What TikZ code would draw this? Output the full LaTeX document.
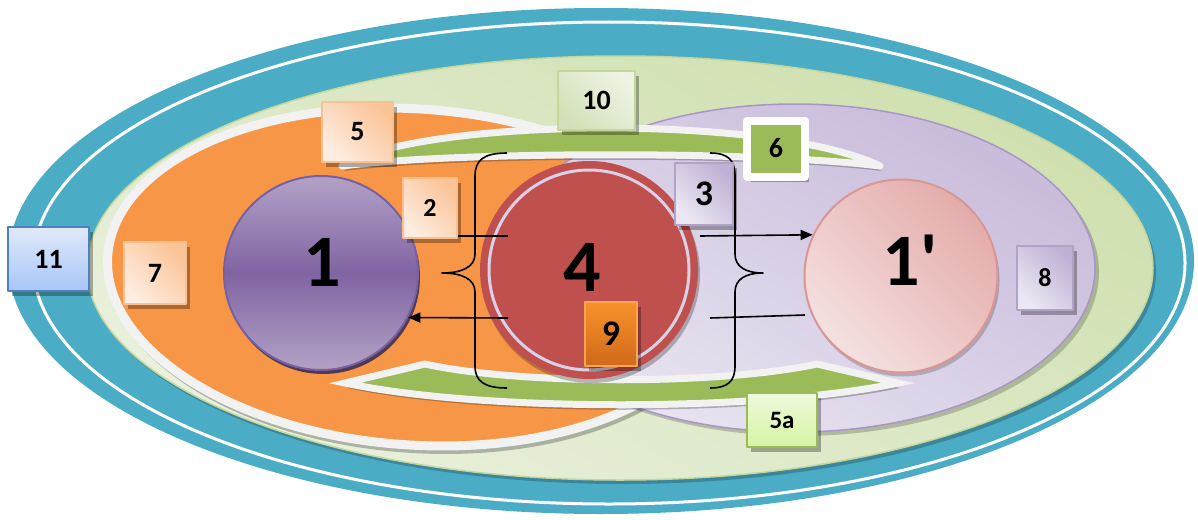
\documentclass[tikz,border=0pt]{standalone}
\usepackage{fontspec}
\setmainfont{Carlito}
\usetikzlibrary{shadows,arrows.meta}
\definecolor{tealc}{HTML}{4BACC6}
\definecolor{greenB}{HTML}{C3D69B}
\definecolor{greenT}{HTML}{D0E0AF}
\definecolor{greenL}{HTML}{E9F0DC}
\definecolor{rimc}{HTML}{F2F2F2}
\definecolor{orangeC}{HTML}{F79646}
\definecolor{purpB}{HTML}{A896C6}
\definecolor{purpT}{HTML}{C8BBDB}
\definecolor{purpL}{HTML}{E9E5F1}
\definecolor{green6}{HTML}{9BBB59}
\definecolor{redC}{HTML}{C0504D}
\definecolor{ringc}{HTML}{D9D1E8}
\definecolor{cOneB}{HTML}{7860A4}
\definecolor{cOneL}{HTML}{B3A2C7}
\definecolor{cOneM}{HTML}{8064A2}
\definecolor{cOneS}{HTML}{3F3151}
\definecolor{pinkB}{HTML}{D99694}
\definecolor{pinkD}{HTML}{E4ACAB}
\definecolor{pinkL}{HTML}{F4E1E0}
\definecolor{peachB}{HTML}{FAC090}
\definecolor{peachD}{HTML}{FBC497}
\definecolor{peachL}{HTML}{FDEDE1}
\definecolor{lilacB}{HTML}{B3A2C7}
\definecolor{lilacD}{HTML}{BFB1D4}
\definecolor{lilacL}{HTML}{ECE8F3}
\definecolor{tenB}{HTML}{C3D69B}
\definecolor{tenD}{HTML}{D3E1B8}
\definecolor{tenL}{HTML}{EEF3E4}
\definecolor{nineB}{HTML}{F9A450}
\definecolor{nineT}{HTML}{F8922A}
\definecolor{nineD}{HTML}{D0691A}
\definecolor{limeT}{HTML}{EEF9DC}
\definecolor{limeD}{HTML}{D6F4A2}
\definecolor{blueB}{HTML}{4F81BD}
\definecolor{blueT}{HTML}{E0E9FA}
\definecolor{blueD}{HTML}{A8C6F8}
\tikzset{
  boxbase/.style={rectangle, inner sep=0pt, text=black,
    font=\bfseries\fontsize{28}{30}\selectfont,
    drop shadow={shadow xshift=4pt, shadow yshift=-5pt, opacity=.3, fill=black}},
  peachbox/.style={boxbase, draw=peachB, line width=1.5pt, top color=peachD, bottom color=peachL, shading angle=-45},
  lilacbox/.style={boxbase, draw=lilacB, line width=1.5pt, top color=lilacD, bottom color=lilacL, shading angle=-45},
  tenbox/.style={boxbase, draw=tenB, line width=1.5pt, top color=tenL, bottom color=tenD, shading angle=-45},
  sixbox/.style={boxbase, draw=white, line width=8pt, fill=green6},
  ninebox/.style={boxbase, draw=nineB, line width=1.5pt, top color=nineT, bottom color=nineD},
  limebox/.style={boxbase, draw=green6, line width=1.5pt, top color=limeT, bottom color=limeD},
  bluebox/.style={boxbase, draw=blueB, line width=1.5pt, top color=blueT, bottom color=blueD},
  bigt/.style={inner sep=0pt, text=black, font=\bfseries\fontsize{74}{80}\selectfont},
  brc/.style={draw=black, line width=1.6pt},
  ln/.style={draw=black, line width=1.6pt},
  arr/.style={draw=black, line width=1.6pt, -{Triangle[length=12pt,width=10pt]}}
}
\begin{document}
\begin{tikzpicture}[x=1pt,y=-1pt,line join=round]
\useasboundingbox (0,0) rectangle (1198,519);
% outer teal ring
\fill[tealc] (601,261) ellipse [x radius=593, y radius=253];
\draw[white, line width=3pt] (609,263) ellipse [x radius=576, y radius=241];
% green ellipse
\fill[black, opacity=.22] (623,272) ellipse [x radius=533, y radius=212];
\path[draw=greenB, line width=1.5pt, top color=greenT, bottom color=greenL, shading angle=-30] (620,268) ellipse [x radius=533, y radius=212];
% orange ellipse
\fill[black, opacity=.25, rotate around={-4:(418,281)}] (418,281) ellipse [x radius=312, y radius=172];
\draw[rimc, line width=9pt, fill=orangeC, rotate around={-4:(415,277)}] (415,277) ellipse [x radius=308, y radius=168];
% purple ellipse
\fill[black, opacity=.2] (799,272) ellipse [x radius=300, y radius=164];
\path[draw=purpB, line width=1.5pt, top color=purpT, bottom color=purpL, shading angle=-30] (795,268) ellipse [x radius=300, y radius=164];
% top crescent
\fill[black, opacity=.25] (344,171) .. controls (422,123) and (772,118) .. (882,171) .. controls (762,156) and (462,156) .. (344,171) -- cycle;
\draw[rimc, line width=7pt, fill=green6] (342,166) .. controls (420,118) and (770,113) .. (880,166) .. controls (760,151) and (460,151) .. (342,166) -- cycle;
% bottom crescent
\fill[black, opacity=.25] (347,388) -- (427,369) .. controls (522,390) and (722,390) .. (819,369) -- (900,388) .. controls (762,417) and (482,417) .. (347,388) -- cycle;
\draw[rimc, line width=7pt, fill=green6, line join=miter] (345,383) -- (425,364) .. controls (520,385) and (720,385) .. (817,364) -- (898,383) .. controls (760,412) and (480,412) .. (345,383) -- cycle;
% circles
\node[circle, minimum size=194pt, inner sep=0pt, draw=cOneB, line width=2pt,
  top color=cOneL, bottom color=cOneL, middle color=cOneM,
  drop shadow={shadow xshift=2pt, shadow yshift=-4pt, fill=cOneS, opacity=.9}] (c1) at (321,273) {};
\node[circle, minimum size=218pt, inner sep=0pt, fill=redC,
  drop shadow={shadow xshift=2pt, shadow yshift=-4pt, fill=black, opacity=.25}] (c4) at (589,270) {};
\draw[ringc, line width=3pt] (c4.center) circle [radius=100];
\node[circle, minimum size=193pt, inner sep=0pt, draw=pinkB, line width=2pt,
  top color=pinkD, bottom color=pinkL, shading angle=-45,
  drop shadow={shadow xshift=2pt, shadow yshift=-4pt, fill=black, opacity=.2}] (c1p) at (901,276) {};
% braces
\draw[brc] (507,153) .. controls (484,153) and (475,160) .. (475,176) -- (475,254) .. controls (475,267) and (462,273) .. (442,273) .. controls (462,273) and (475,279) .. (475,292) -- (475,366) .. controls (475,381) and (484,388) .. (507,388);
\draw[brc] (710,153) .. controls (728,153) and (735,160) .. (735,176) -- (735,254) .. controls (735,267) and (746,273) .. (763,273) .. controls (746,273) and (735,279) .. (735,292) -- (735,366) .. controls (735,381) and (728,388) .. (710,388);
% connectors
\coordinate (l2s) at (458,236);
\coordinate (l2e) at (508,236);
\draw[ln] (l2s) -- (l2e);
\coordinate (a1s) at (508,318);
\draw[arr] (a1s) -- (c1.-27.6);
\coordinate (a2s) at (700,236);
\draw[arr] (a2s) -- (c1p.155.5);
\coordinate (l3s) at (710,318);
\coordinate (l3e) at (805,315);
\draw[ln] (l3s) -- (l3e);
% big texts
\node[bigt] (t1) at (322,262) {1};
\node[bigt] (t4) at (582,267) {4};
\node[bigt] (t1p) at (910,260) {1\textquotesingle};
% label boxes
\node[tenbox, minimum width=77pt, minimum height=59pt] (b10) at (596.5,100.5) {10};
\node[peachbox, minimum width=71pt, minimum height=60pt] (b5) at (357.5,132) {5};
\node[peachbox, minimum width=54pt, minimum height=60pt, font=\bfseries\fontsize{26}{28}\selectfont] (b2) at (430,208) {2};
\node[lilacbox, minimum width=58pt, minimum height=62pt, font=\bfseries\fontsize{36}{38}\selectfont] (b3) at (704,194) {3};
\node[sixbox, minimum width=58pt, minimum height=56pt] (b6) at (776,148.5) {6};
\node[ninebox, minimum width=52pt, minimum height=64pt, font=\bfseries\fontsize{36}{38}\selectfont] (b9) at (611,334) {9};
\node[limebox, minimum width=70pt, minimum height=54pt, font=\bfseries\fontsize{25}{27}\selectfont] (b5a) at (782,420) {5a};
\node[peachbox, minimum width=62pt, minimum height=62pt] (b7) at (155,273) {7};
\node[lilacbox, minimum width=56pt, minimum height=64pt, font=\bfseries\fontsize{26}{28}\selectfont] (b8) at (1045,278) {8};
\node[bluebox, minimum width=81pt, minimum height=64pt] (b11) at (48.5,259) {11};
\end{tikzpicture}
\end{document}
